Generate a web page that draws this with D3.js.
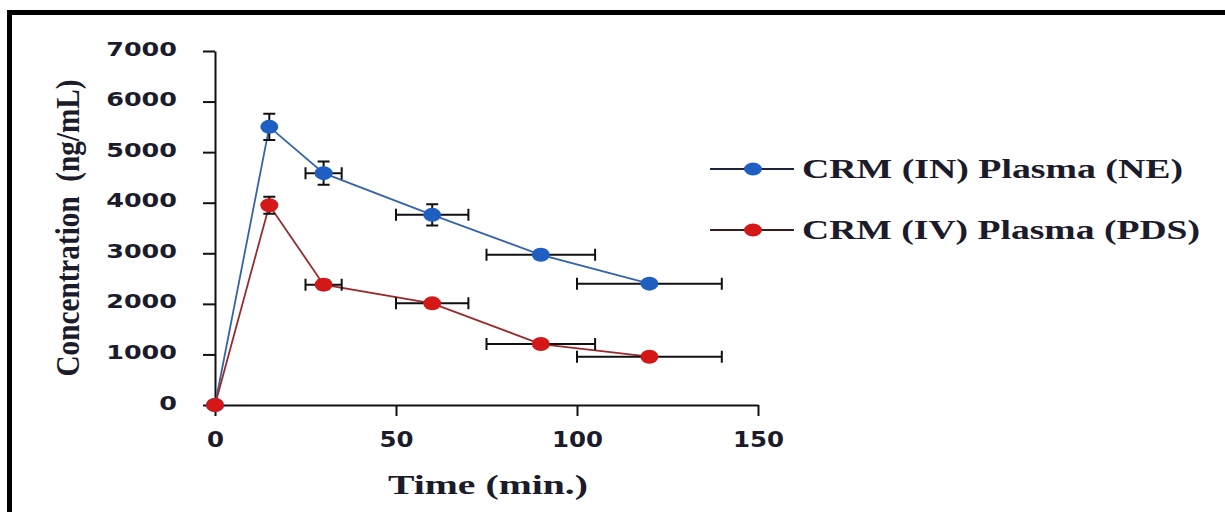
<!DOCTYPE html>
<html>
<head>
<meta charset="utf-8">
<script src="https://cdn.jsdelivr.net/npm/d3@7"></script>
<style>
  body { margin: 0; background: #fff; }
  svg { display: block; }
</style>
</head>
<body>
<div id="chart"></div>
<script>
// time points (min.) and horizontal error
const times = [0, 15, 30, 60, 90, 120];
const timeErr = [0, 0, 5, 10, 15, 20];

// CRM (IN) Plasma (NE)
const inConc = [0, 5500, 4585, 3760, 2970, 2400];
const inErr = [0, 260, 230, 210, 80, 70];

// CRM (IV) Plasma (PDS)
const ivConc = [0, 3950, 2380, 2010, 1205, 955];
const ivErr = [0, 170, 90, 80, 60, 50];

const seriesNames = ["CRM (IN) Plasma (NE)", "CRM (IV) Plasma (PDS)"];
const xTicks = [0, 50, 100, 150];
const yTicks = [0, 1000, 2000, 3000, 4000, 5000, 6000, 7000];

const W = 1225, H = 512;
const textColor = "#1b1b2b";

const svg = d3.select("#chart").append("svg")
  .attr("width", W).attr("height", H);

svg.append("rect").attr("width", W).attr("height", H).attr("fill", "#fff");

// frame (top and left edges are what shows)
svg.append("path")
  .attr("d", `M9.5,${H} V12.5 H${W}`)
  .attr("fill", "none").attr("stroke", "#000").attr("stroke-width", 5);

const x = d3.scaleLinear().domain([0, 150]).range([215, 758]);
const y = d3.scaleLinear().domain([0, 7000]).range([405, 51]);

// axes
const fmt = d3.format("d");
const xAxis = d3.axisBottom(x).tickValues(xTicks).tickFormat(fmt).tickSize(11).tickSizeOuter(0).tickPadding(14);
const yAxis = d3.axisLeft(y).tickValues(yTicks).tickFormat(fmt).tickSize(12).tickSizeOuter(0).tickPadding(26);

const gx = svg.append("g").attr("transform", `translate(0,${y(0)})`).call(xAxis);
const gy = svg.append("g").attr("transform", `translate(${x(0)},0)`).call(yAxis);

[gx, gy].forEach(g => {
  g.select(".domain").attr("stroke", "#111").attr("stroke-width", 2);
  g.selectAll(".tick line").attr("stroke", "#111").attr("stroke-width", 2);
  g.selectAll(".tick text")
    .attr("fill", textColor)
    .attr("font-family", "'DejaVu Sans', Verdana, sans-serif")
    .attr("font-weight", "bold");
});
gy.selectAll(".tick text")
  .attr("font-size", 20)
  .attr("dy", "0.2em")
  .attr("textLength", d => fmt(d).length * 17.7)
  .attr("lengthAdjust", "spacingAndGlyphs");
gx.selectAll(".tick text")
  .attr("font-size", 22)
  .attr("dy", "0.75em")
  .attr("textLength", d => fmt(d).length * 17)
  .attr("lengthAdjust", "spacingAndGlyphs");

// axis titles
svg.append("text")
  .attr("x", 488).attr("y", 494)
  .attr("text-anchor", "middle")
  .attr("font-family", "'Liberation Serif', 'Times New Roman', serif")
  .attr("font-weight", "bold").attr("font-size", 27)
  .attr("fill", textColor)
  .attr("textLength", 200).attr("lengthAdjust", "spacingAndGlyphs")
  .text("Time (min.)");

svg.append("text")
  .attr("transform", "translate(79,228) rotate(-90)")
  .attr("text-anchor", "middle")
  .attr("font-family", "'Liberation Serif', 'Times New Roman', serif")
  .attr("font-weight", "bold").attr("font-size", 33)
  .attr("fill", textColor)
  .attr("textLength", 297).attr("lengthAdjust", "spacingAndGlyphs")
  .attr("xml:space", "preserve")
  .text("Concentration  (ng/mL)");

const series = [
  { name: seriesNames[0], conc: inConc, err: inErr, line: "#3565a8", fill: "#1f5fc2", legLine: "#1e2438" },
  { name: seriesNames[1], conc: ivConc, err: ivErr, line: "#9a2a2a", fill: "#d41818", legLine: "#3a1c1c" }
];

const line = d3.line().x(d => x(d.t)).y(d => y(d.c));

series.forEach(s => {
  const pts = times.map((t, i) => ({ t, c: s.conc[i], ex: timeErr[i], ey: s.err[i] }));
  const g = svg.append("g");

  g.append("path").datum(pts)
    .attr("d", line)
    .attr("fill", "none").attr("stroke", s.line).attr("stroke-width", 1.8);

  // error bars
  const eb = g.selectAll(".eb").data(pts.filter(d => d.t > 0)).join("g")
    .attr("stroke", "#111").attr("stroke-width", 2);
  eb.filter(d => d.ey > 0).append("path")
    .attr("d", d => {
      const cx = x(d.t), y1 = y(d.c + d.ey), y2 = y(d.c - d.ey);
      return `M${cx},${y1}V${y2}M${cx - 6},${y1}H${cx + 6}M${cx - 6},${y2}H${cx + 6}`;
    });
  eb.filter(d => d.ex > 0).append("path")
    .attr("d", d => {
      const cy = y(d.c), x1 = x(d.t - d.ex), x2 = x(d.t + d.ex);
      return `M${x1},${cy}H${x2}M${x1},${cy - 6}V${cy + 6}M${x2},${cy - 6}V${cy + 6}`;
    });

  g.selectAll("ellipse").data(pts).join("ellipse")
    .attr("cx", d => x(d.t)).attr("cy", d => y(d.c))
    .attr("rx", 9).attr("ry", 7)
    .attr("fill", s.fill);
});

// legend
const legend = svg.append("g");
series.forEach((s, i) => {
  const ly = 169 + i * 61;
  legend.append("line")
    .attr("x1", 710).attr("x2", 794).attr("y1", ly).attr("y2", ly)
    .attr("stroke", s.legLine).attr("stroke-width", 2);
  legend.append("ellipse")
    .attr("cx", 753).attr("cy", ly).attr("rx", 9).attr("ry", 6.5)
    .attr("fill", s.fill);
  legend.append("text")
    .attr("x", 802).attr("y", ly + 9)
    .attr("font-family", "'Liberation Serif', 'Times New Roman', serif")
    .attr("font-weight", "bold").attr("font-size", 27)
    .attr("fill", textColor)
    .attr("textLength", i === 0 ? 381 : 398).attr("lengthAdjust", "spacingAndGlyphs")
    .text(s.name);
});
</script>
</body>
</html>
